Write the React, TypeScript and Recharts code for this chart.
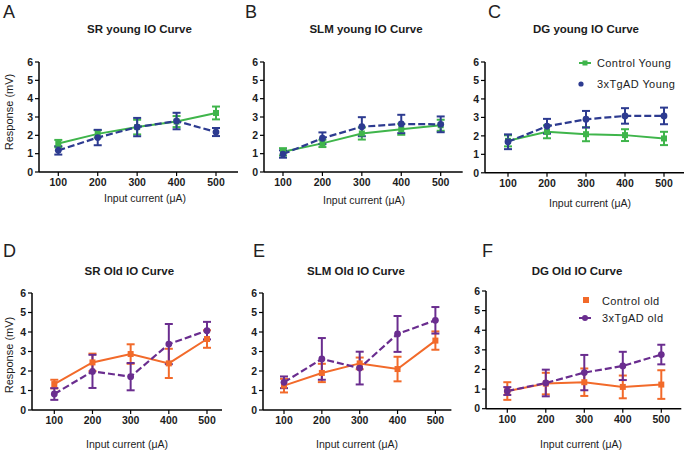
import React from "react";
import { LineChart, Line, XAxis, YAxis, ErrorBar } from "recharts";

// ---------- data ----------
const currents = [100, 200, 300, 400, 500];
const yTicks = [0, 1, 2, 3, 4, 5, 6];

const srYoungCtrl = [1.55, 2.08, 2.45, 2.75, 3.22];
const srYoungCtrlErr = [0.2, 0.2, 0.4, 0.3, 0.35];
const srYoungTg = [1.18, 1.88, 2.45, 2.78, 2.18];
const srYoungTgErr = [0.23, 0.42, 0.5, 0.45, 0.22];

const slmYoungCtrl = [1.1, 1.56, 2.1, 2.33, 2.55];
const slmYoungCtrlErr = [0.2, 0.2, 0.33, 0.3, 0.3];
const slmYoungTg = [0.98, 1.84, 2.47, 2.62, 2.6];
const slmYoungTgErr = [0.2, 0.32, 0.52, 0.5, 0.43];

const dgYoungCtrl = [1.73, 2.22, 2.09, 2.04, 1.86];
const dgYoungCtrlErr = [0.3, 0.35, 0.38, 0.32, 0.36];
const dgYoungTg = [1.68, 2.52, 2.9, 3.08, 3.08];
const dgYoungTgErr = [0.4, 0.4, 0.45, 0.42, 0.45];

const srOldCtrl = [1.33, 2.44, 2.87, 2.39, 3.64];
const srOldCtrlErr = [0.22, 0.45, 0.5, 0.75, 0.45];
const srOldTg = [0.82, 1.98, 1.71, 3.38, 4.07];
const srOldTgErr = [0.3, 0.85, 0.7, 1.03, 0.45];

const slmOldCtrl = [1.25, 1.9, 2.39, 2.1, 3.56];
const slmOldCtrlErr = [0.35, 0.47, 0.3, 0.63, 0.47];
const slmOldTg = [1.42, 2.62, 2.15, 3.9, 4.6];
const slmOldTgErr = [0.3, 1.07, 0.84, 0.92, 0.68];

const dgOldCtrl = [0.9, 1.28, 1.35, 1.11, 1.23];
const dgOldCtrlErr = [0.45, 0.55, 0.7, 0.58, 0.73];
const dgOldTg = [0.9, 1.31, 1.84, 2.18, 2.76];
const dgOldTgErr = [0.2, 0.68, 0.9, 0.72, 0.5];

const titles = [
  "SR young IO Curve",
  "SLM young IO Curve",
  "DG young IO Curve",
  "SR Old IO Curve",
  "SLM Old IO Curve",
  "DG Old IO Curve",
];
const letters = ["A", "B", "C", "D", "E", "F"];
const xLabel = "Input current (\u03bcA)";
const yLabel = "Response (mV)";
const youngNames = ["Control Young", "3xTgAD Young"];
const oldNames = ["Control old", "3xTgAD old"];

// ---------- styles ----------
const FONT = "'Liberation Sans', Arial, Helvetica, sans-serif";
const GREEN = "#3fb54b";
const BLUE = "#2d3b90";
const ORANGE = "#f26a2a";
const PURPLE = "#6a2d8f";
const INK = "#1c1c1c";

const build = (c: number[], ce: number[], t: number[], te: number[]) =>
  currents.map((x, i) => ({ x, ctrl: c[i], ctrlErr: ce[i], tg: t[i], tgErr: te[i] }));

const panels = [
  { data: build(srYoungCtrl, srYoungCtrlErr, srYoungTg, srYoungTgErr), ax: 39, x100: 58.3, x500: 216, yTop: 62, yBot: 172, padR: 22, c1: GREEN, c2: BLUE,
    title: [139.5, 33], letter: [3, 17.5], xl: [145, 202], yl: [13, 112] },
  { data: build(slmYoungCtrl, slmYoungCtrlErr, slmYoungTg, slmYoungTgErr), ax: 264.3, x100: 283.3, x500: 441, yTop: 62, yBot: 172, padR: 22, c1: GREEN, c2: BLUE,
    title: [366, 33], letter: [245, 18], xl: [364, 204] },
  { data: build(dgYoungCtrl, dgYoungCtrlErr, dgYoungTg, dgYoungTgErr), ax: 485, x100: 508, x500: 664, yTop: 61.7, yBot: 172.5, padR: 20, c1: GREEN, c2: BLUE,
    title: [586, 33], letter: [488, 17.5], xl: [590, 206.5] },
  { data: build(srOldCtrl, srOldCtrlErr, srOldTg, srOldTgErr), ax: 32, x100: 54.3, x500: 207, yTop: 292.7, yBot: 409.7, padR: 15, c1: ORANGE, c2: PURPLE,
    title: [129.3, 275], letter: [3, 256.5], xl: [127, 447.5], yl: [13, 355] },
  { data: build(slmOldCtrl, slmOldCtrlErr, slmOldTg, slmOldTgErr), ax: 263.3, x100: 284.3, x500: 435.7, yTop: 292.7, yBot: 409.7, padR: 16, c1: ORANGE, c2: PURPLE,
    title: [356, 275], letter: [253, 257], xl: [357, 447.5] },
  { data: build(dgOldCtrl, dgOldCtrlErr, dgOldTg, dgOldTgErr), ax: 486, x100: 507.3, x500: 661.3, yTop: 291, yBot: 408.7, padR: 20, c1: ORANGE, c2: PURPLE,
    title: [577, 274.5], letter: [482, 257], xl: [581, 447.5] },
];

const squareDot = (color: string, size: number) => (props: any) => {
  const { cx, cy, index } = props;
  if (cx == null || cy == null) return <g key={`s-${index}`} />;
  return <rect key={`s-${index}`} x={cx - size / 2} y={cy - size / 2} width={size} height={size} fill={color} />;
};
const circleDot = (color: string, r: number) => (props: any) => {
  const { cx, cy, index } = props;
  if (cx == null || cy == null) return <g key={`c-${index}`} />;
  return <circle key={`c-${index}`} cx={cx} cy={cy} r={r} fill={color} />;
};

const TOPM = 20;
const YW = 40;
const RIGHTM = 10;
const XH = 30;

function Panel({ p }: { p: any }) {
  const padL = p.x100 - p.ax;
  const plotW = padL + (p.x500 - p.x100) + p.padR;
  const plotH = p.yBot - p.yTop;
  const W = YW + plotW + RIGHTM;
  const H = TOPM + plotH + XH;
  const tickStyle = { fontSize: 10.5, fontWeight: 700, fill: INK, fontFamily: FONT };
  return (
    <div style={{ position: "absolute", left: p.ax - YW, top: p.yTop - TOPM }}>
      <LineChart width={W} height={H} data={p.data} margin={{ top: TOPM, right: RIGHTM, bottom: 0, left: 0 }}>
        <XAxis
          type="number"
          dataKey="x"
          domain={[100, 500]}
          ticks={currents}
          interval={0}
          padding={{ left: padL, right: p.padR }}
          height={XH}
          tickSize={4}
          tickMargin={3}
          axisLine={{ stroke: "#000", strokeWidth: 1.5 }}
          tickLine={{ stroke: "#000", strokeWidth: 1.2 }}
          tick={tickStyle}
        />
        <YAxis
          type="number"
          domain={[0, 6]}
          ticks={yTicks}
          interval={0}
          width={YW}
          tickSize={4}
          tickMargin={2}
          axisLine={{ stroke: "#000", strokeWidth: 1.5 }}
          tickLine={{ stroke: "#000", strokeWidth: 1.2 }}
          tick={tickStyle}
        />
        <Line
          dataKey="ctrl"
          type="linear"
          stroke={p.c1}
          strokeWidth={2}
          dot={squareDot(p.c1, 6)}
          activeDot={false}
          isAnimationActive={false}
        >
          <ErrorBar dataKey="ctrlErr" direction="y" width={4} strokeWidth={2} stroke={p.c1} isAnimationActive={false} />
        </Line>
        <Line
          dataKey="tg"
          type="linear"
          stroke={p.c2}
          strokeWidth={2.2}
          strokeDasharray="7 3"
          dot={circleDot(p.c2, 3.4)}
          activeDot={false}
          isAnimationActive={false}
        >
          <ErrorBar dataKey="tgErr" direction="y" width={4} strokeWidth={2} stroke={p.c2} isAnimationActive={false} />
        </Line>
      </LineChart>
    </div>
  );
}

export default function App() {
  return (
    <div style={{ position: "absolute", left: 0, top: 0, width: 689, height: 454, background: "#fff", overflow: "hidden" }}>
      {panels.map((p, i) => (
        <Panel key={i} p={p} />
      ))}
      <svg width={689} height={454} style={{ position: "absolute", left: 0, top: 0, pointerEvents: "none" }} fontFamily={FONT}>
        {panels.map((p, i) => (
          <g key={i}>
            <text x={p.letter[0]} y={p.letter[1]} fontSize={18} fill="#222">{letters[i]}</text>
            <text x={p.title[0]} y={p.title[1]} fontSize={11.5} fontWeight={700} fill={INK} textAnchor="middle">{titles[i]}</text>
            <text x={p.xl[0]} y={p.xl[1]} fontSize={10.5} fill={INK} textAnchor="middle">{xLabel}</text>
            {p.yl ? (
              <text x={p.yl[0]} y={p.yl[1]} fontSize={11} fill={INK} textAnchor="middle" transform={`rotate(-90 ${p.yl[0]} ${p.yl[1]})`}>{yLabel}</text>
            ) : null}
          </g>
        ))}
        {/* legend: young */}
        <line x1={579} y1={63} x2={591} y2={63} stroke={GREEN} strokeWidth={2} />
        <rect x={582.5} y={60.5} width={5} height={5} fill={GREEN} />
        <text x={597} y={67} fontSize={11} letterSpacing={0.4} fill={INK}>{youngNames[0]}</text>
        <circle cx={581} cy={84} r={2.6} fill={BLUE} />
        <text x={597} y={88} fontSize={11} letterSpacing={0.4} fill={INK}>{youngNames[1]}</text>
        {/* legend: old */}
        <rect x={583} y={297} width={6} height={6} fill={ORANGE} />
        <text x={602} y={305} fontSize={11} letterSpacing={0.4} fill={INK}>{oldNames[0]}</text>
        <line x1={579} y1={318} x2={591} y2={318} stroke={PURPLE} strokeWidth={2} />
        <circle cx={585} cy={318} r={3} fill={PURPLE} />
        <text x={602} y={322} fontSize={11} letterSpacing={0.4} fill={INK}>{oldNames[1]}</text>
      </svg>
    </div>
  );
}
